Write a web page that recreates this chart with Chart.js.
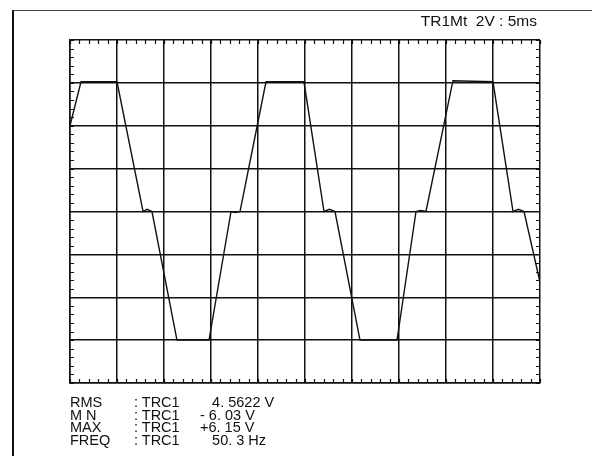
<!DOCTYPE html>
<html>
<head>
<meta charset="utf-8">
<script src="https://cdn.jsdelivr.net/npm/chart.js@4"></script>
<style>
  html, body { margin: 0; padding: 0; background: #fff; }
  #wrap { position: relative; width: 596px; height: 456px; overflow: hidden; }
  #frame { position: absolute; left: 12px; top: 10px; width: 578px; height: 460px;
           border-left: 2px solid #111; border-top: 1px solid #444; }
  canvas { position: absolute; left: 0; top: 0; }
  .txt { position: absolute; font-family: "Liberation Sans", Arial, sans-serif; font-size: 14.5px;
         color: #111; white-space: pre; line-height: 12.5px; }
</style>
</head>
<body>
<div id="wrap">
  <div id="frame"></div>
  <canvas id="scope" width="596" height="456"></canvas>
  <div class="txt" id="hdr" style="right:59px; top:15px; font-size:15.5px;"></div>
  <div class="txt" id="names" style="left:70px; top:396px;"></div>
  <div class="txt" id="srcs" style="left:134px; top:396px;"></div>
  <div class="txt" id="vals" style="left:200px; top:396px;"></div>
</div>
<script>
// time in ms (5 ms/div), volts (2 V/div)
var timeMs = [0, 1.17, 5.0, 7.77, 8.2, 8.72, 11.38, 14.79, 17.13, 17.6, 18.09, 20.85,
              24.89, 27.02, 27.6, 28.19, 30.85, 34.79, 36.81, 37.3, 37.87, 40.74,
              45.0, 47.13, 47.7, 48.3, 50.0];
var volts = [4.0, 6.05, 6.05, 0.0, 0.1, 0.0, -6.0, -6.0, 0.0, -0.05, 0.0, 6.05,
             6.05, 0.0, 0.1, 0.0, -6.0, -6.0, 0.0, 0.05, 0.0, 6.1,
             6.05, 0.0, 0.1, 0.0, -3.3];
var headerText = 'TR1Mt  2V : 5ms';
var measNames = ['RMS', 'M N', 'MAX', 'FREQ'];
var measSrc = [': TRC1', ': TRC1', ': TRC1', ': TRC1'];
var measVals = ['   4. 5622 V', '- 6. 03 V', '+6. 15 V', '   50. 3 Hz'];

document.getElementById('hdr').textContent = headerText;
document.getElementById('names').textContent = measNames.join('\n');
document.getElementById('srcs').textContent = measSrc.join('\n');
document.getElementById('vals').textContent = measVals.join('\n');

var points = [];
for (var i = 0; i < timeMs.length; i++) {
    points.push({x: timeMs[i], y: volts[i]});
}

// small tick marks along the graticule edges, 5 per division
var minorTicks = {
    id: 'minorTicks',
    afterDraw: function(chart) {
        var ctx = chart.ctx, xs = chart.scales.x, ys = chart.scales.y, a = chart.chartArea;
        var len = 4;
        ctx.save();
        ctx.strokeStyle = '#111';
        ctx.lineWidth = 1.2;
        ctx.beginPath();
        for (var t = 0; t <= 50; t += 1) {
            var px = Math.round(xs.getPixelForValue(t)) + 0.5;
            ctx.moveTo(px, a.top); ctx.lineTo(px, a.top + len);
            ctx.moveTo(px, a.bottom); ctx.lineTo(px, a.bottom - len);
        }
        for (var v = -8; v <= 8.001; v += 0.4) {
            var py = Math.round(ys.getPixelForValue(v)) + 0.5;
            ctx.moveTo(a.left, py); ctx.lineTo(a.left + len, py);
            ctx.moveTo(a.right, py); ctx.lineTo(a.right - len, py);
        }
        ctx.stroke();
        ctx.restore();
    }
};

var chart = new Chart(document.getElementById('scope').getContext('2d'), {
    type: 'scatter',
    data: {
        datasets: [{
            data: points,
            showLine: true,
            borderColor: '#111',
            borderWidth: 1.4,
            pointRadius: 0,
            tension: 0
        }]
    },
    options: {
        responsive: false,
        animation: false,
        layout: { padding: { left: 70, right: 56, top: 40, bottom: 73 } },
        plugins: { legend: { display: false }, tooltip: { enabled: false } },
        scales: {
            x: {
                type: 'linear', min: 0, max: 50,
                ticks: { display: false, stepSize: 5 },
                grid: { color: '#111', lineWidth: 1.5, drawTicks: false },
                border: { display: true, color: '#111', width: 1.5 }
            },
            y: {
                type: 'linear', min: -8, max: 8,
                ticks: { display: false, stepSize: 2 },
                grid: { color: '#111', lineWidth: 1.5, drawTicks: false },
                border: { display: true, color: '#111', width: 1.5 }
            }
        }
    },
    plugins: [minorTicks]
});
</script>
</body>
</html>
